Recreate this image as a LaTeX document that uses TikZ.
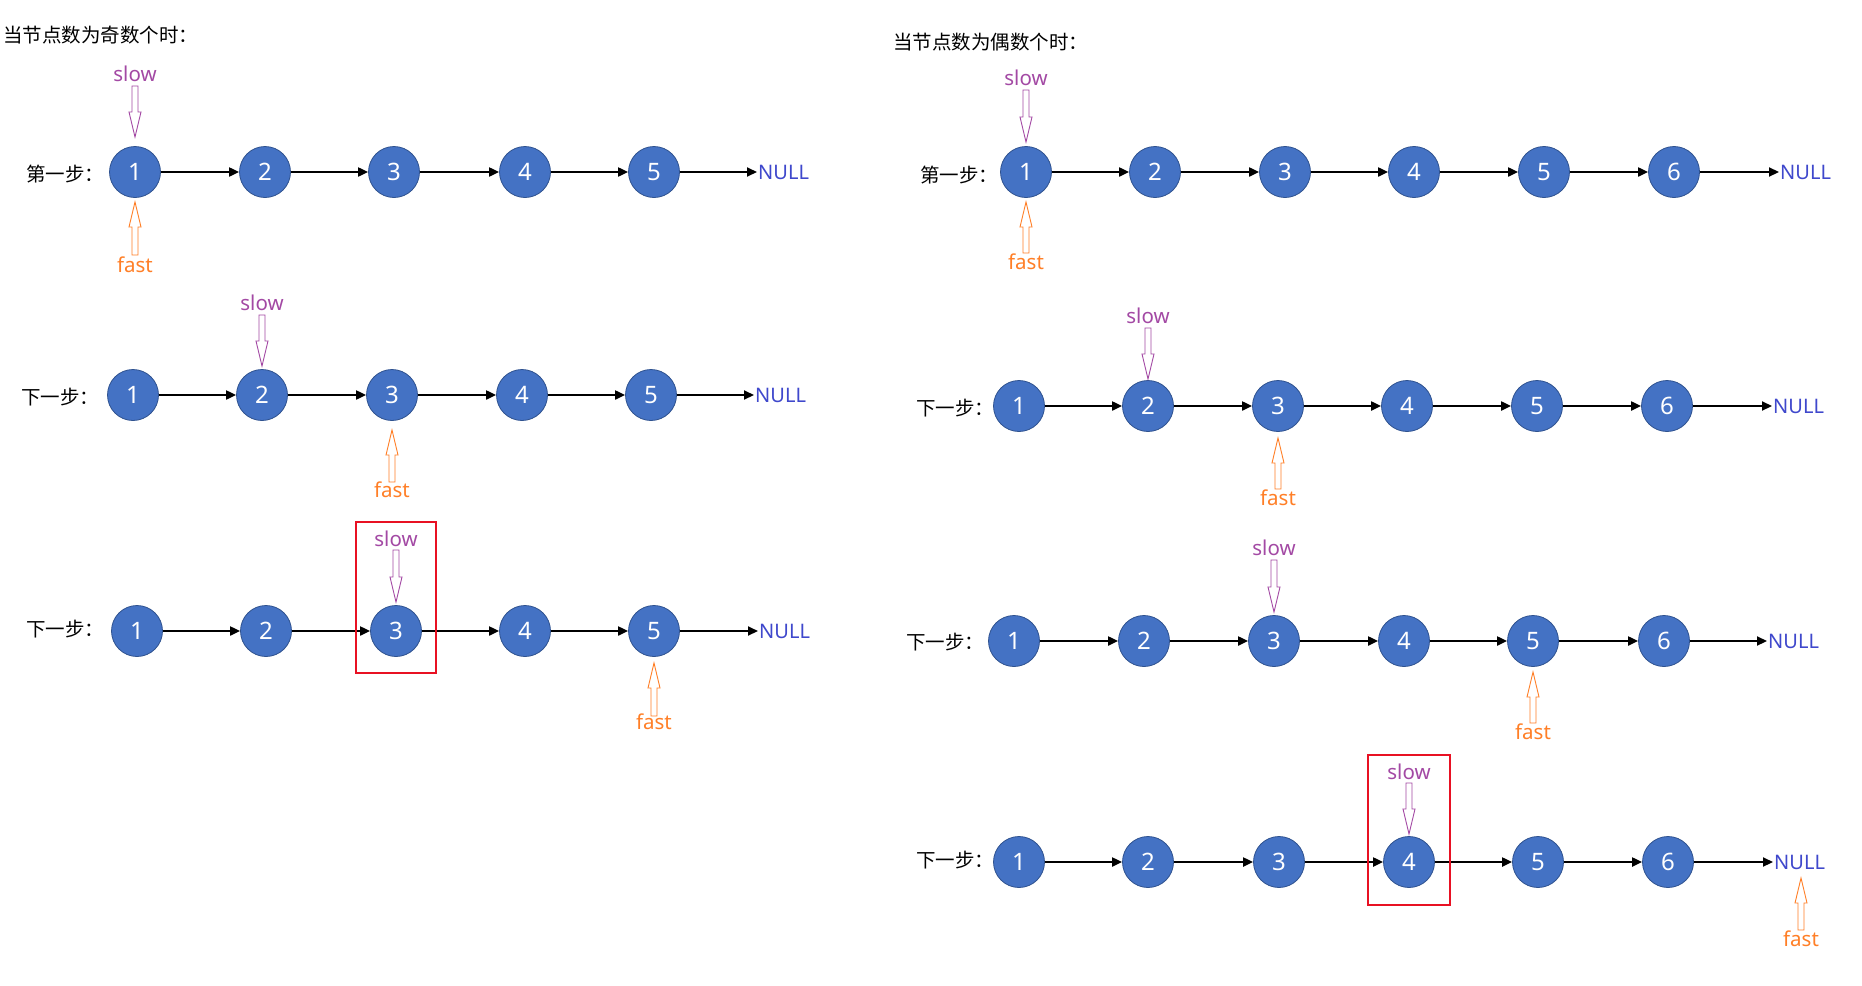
\documentclass[tikz,border=0pt]{standalone}
\usepackage{fontspec}
\setmainfont{Noto Sans}
\newfontfamily\cjk{Noto Sans CJK SC}
\usetikzlibrary{arrows.meta}
\definecolor{nodeblue}{HTML}{4472C4}
\definecolor{nodeedge}{HTML}{2F528F}
\definecolor{slowc}{HTML}{A349A4}
\definecolor{fastc}{HTML}{FF7F27}
\definecolor{nullc}{HTML}{3F48CC}
\definecolor{boxred}{HTML}{E81123}
\newcommand\slowptr[5]{%
  \node[slowtxt] (#1) at (#2,#3) {slow};
  \draw[slowc, line width=0.9pt] (#2-3,#4) -- (#2+3,#4) -- (#2+3,#5-25) -- (#2+6,#5-25) -- (#2,#5) -- (#2-6,#5-25) -- (#2-3,#5-25) -- cycle;}
\newcommand\fastptr[5]{%
  \node[fasttxt] (#1) at (#2,#3) {fast};
  \draw[fastc, line width=0.9pt] (#2-3,#4) -- (#2+3,#4) -- (#2+3,#5+25) -- (#2+6,#5+25) -- (#2,#5) -- (#2-6,#5+25) -- (#2-3,#5+25) -- cycle;}
\begin{document}
\begin{tikzpicture}[x=1pt,y=-1pt,
  ll/.style={circle, minimum size=51pt, inner sep=0pt, fill=nodeblue, draw=nodeedge, line width=0.8pt, text=white, font=\fontsize{24}{24}\selectfont},
  link/.style={line width=2pt, -{Triangle[length=10pt,width=9pt]}},
  nulltxt/.style={anchor=west, inner sep=1pt, text=nullc, font=\fontsize{20}{20}\selectfont},
  steplbl/.style={anchor=west, inner sep=0pt, font=\cjk\fontsize{19.5}{19.5}\selectfont},
  titletxt/.style={anchor=west, inner sep=0pt, font=\cjk\fontsize{19.5}{19.5}\selectfont},
  slowtxt/.style={inner sep=0pt, text=slowc, font=\fontsize{20.5}{20.5}\selectfont},
  fasttxt/.style={inner sep=0pt, text=fastc, font=\fontsize{20.5}{20.5}\selectfont},
  redbox/.style={draw=boxred, line width=2.5pt}
]
\fill[white] (0,0) rectangle (1862,985);
\useasboundingbox (0,0) rectangle (1862,985);

% titles
\node[titletxt] (t1) at (3,35) {当节点数为奇数个时：};
\node[titletxt] (t2) at (893,42) {当节点数为偶数个时：};

% ---------- left panel ----------
% row a
\node[steplbl] (la) at (26,174) {第一步：};
\foreach \x [count=\i] in {135,265,394,525,654} \node[ll] (a\i) at (\x,172) {\i};
\node[nulltxt] (aN) at (757,172) {NULL};
\foreach \i/\j in {1/2,2/3,3/4,4/5} \draw[link] (a\i) -- (a\j);
\draw[link] (a5) -- (aN);
\slowptr{as}{135}{74}{86}{137}
\fastptr{af}{135}{265}{255}{202}

% row b
\node[steplbl] (lb) at (21,397) {下一步：};
\foreach \x [count=\i] in {133,262,392,522,651} \node[ll] (b\i) at (\x,395) {\i};
\node[nulltxt] (bN) at (754,395) {NULL};
\foreach \i/\j in {1/2,2/3,3/4,4/5} \draw[link] (b\i) -- (b\j);
\draw[link] (b5) -- (bN);
\slowptr{bs}{262}{303}{315}{366}
\fastptr{bf}{392}{490}{482}{430}

% row c
\node[steplbl] (lc) at (26,629) {下一步：};
\foreach \x [count=\i] in {137,266,396,525,654} \node[ll] (c\i) at (\x,631) {\i};
\node[nulltxt] (cN) at (758,631) {NULL};
\foreach \i/\j in {1/2,2/3,3/4,4/5} \draw[link] (c\i) -- (c\j);
\draw[link] (c5) -- (cN);
\slowptr{cs}{396}{539}{550}{602}
\fastptr{cf}{654}{722}{716}{663}
\draw[redbox] (356,522) rectangle (436,673);

% ---------- right panel ----------
% row d
\node[steplbl] (ld) at (920,175) {第一步：};
\foreach \x [count=\i] in {1026,1155,1285,1414,1544,1674} \node[ll] (d\i) at (\x,172) {\i};
\node[nulltxt] (dN) at (1779,172) {NULL};
\foreach \i/\j in {1/2,2/3,3/4,4/5,5/6} \draw[link] (d\i) -- (d\j);
\draw[link] (d6) -- (dN);
\slowptr{ds}{1026}{78}{90}{142}
\fastptr{df}{1026}{262}{253}{202}

% row e
\node[steplbl] (le) at (916,408) {下一步：};
\foreach \x [count=\i] in {1019,1148,1278,1407,1537,1667} \node[ll] (e\i) at (\x,406) {\i};
\node[nulltxt] (eN) at (1772,406) {NULL};
\foreach \i/\j in {1/2,2/3,3/4,4/5,5/6} \draw[link] (e\i) -- (e\j);
\draw[link] (e6) -- (eN);
\slowptr{es}{1148}{316}{328}{379}
\fastptr{ef}{1278}{498}{489}{438}

% row f
\node[steplbl] (lf) at (906,642) {下一步：};
\foreach \x [count=\i] in {1014,1144,1274,1404,1533,1664} \node[ll] (f\i) at (\x,641) {\i};
\node[nulltxt] (fN) at (1767,641) {NULL};
\foreach \i/\j in {1/2,2/3,3/4,4/5,5/6} \draw[link] (f\i) -- (f\j);
\draw[link] (f6) -- (fN);
\slowptr{fs}{1274}{548}{560}{612}
\fastptr{ff}{1533}{732}{723}{672}

% row g
\node[steplbl] (lg) at (916,860) {下一步：};
\foreach \x [count=\i] in {1019,1148,1279,1409,1538,1668} \node[ll] (g\i) at (\x,862) {\i};
\node[nulltxt] (gN) at (1773,862) {NULL};
\foreach \i/\j in {1/2,2/3,3/4,4/5,5/6} \draw[link] (g\i) -- (g\j);
\draw[link] (g6) -- (gN);
\slowptr{gs}{1409}{772}{783}{834}
\fastptr{gf}{1801}{939}{930}{878}
\draw[redbox] (1368,755) rectangle (1450,905);
\end{tikzpicture}
\end{document}
